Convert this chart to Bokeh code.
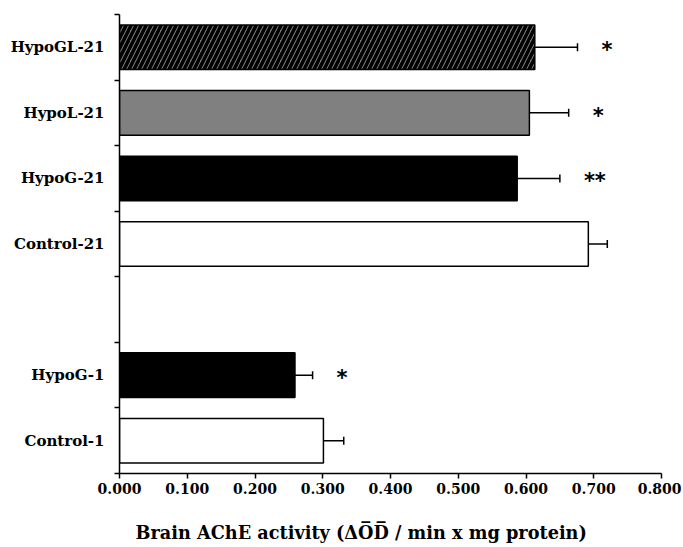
from bokeh.plotting import figure
from bokeh.models import (ColumnDataSource, FixedTicker, Range1d, Whisker, TeeHead,
                          NumeralTickFormatter, Title)
from bokeh.core.properties import value
from bokeh.embed import file_html
from bokeh.resources import INLINE

# ---- data ----
slots = ["Control-1", "HypoG-1", "", "Control-21", "HypoG-21", "HypoL-21", "HypoGL-21"]
means = [0.301, 0.259, None, 0.692, 0.587, 0.605, 0.613]
errors = [0.030, 0.026, None, 0.028, 0.063, 0.058, 0.063]
signif = ["", "*", "", "", "**", "*", "*"]
x_ticks = [0.0, 0.1, 0.2, 0.3, 0.4, 0.5, 0.6, 0.7, 0.8]
x_title = "Brain AChE activity (\u0394O\u0305D\u0305 / min x mg protein)"

# ---- styles per group ----
fill_map = {"Control": "white", "HypoG": "black", "HypoL": "#808080", "HypoGL": "#808080"}
hatch_map = {"Control": " ", "HypoG": " ", "HypoL": " ", "HypoGL": "/"}

rows = [(i, s) for i, s in enumerate(slots) if s]
ys = [i + 0.5 for i, _ in rows]
m = [means[i] for i, _ in rows]
e = [errors[i] for i, _ in rows]
src = ColumnDataSource(dict(
    y=ys, mean=m, upper=[a + b for a, b in zip(m, e)],
    sig=[signif[i] for i, _ in rows],
    fill=[fill_map[s.split("-")[0]] for _, s in rows],
    hatch=[hatch_map[s.split("-")[0]] for _, s in rows],
))

p = figure(frame_width=542, frame_height=459, output_backend="svg", toolbar_location=None,
           x_range=Range1d(0, 0.8), y_range=Range1d(0, len(slots)),
           min_border_left=119, min_border_top=14, min_border_right=20, min_border_bottom=0)
p.outline_line_color = None
p.xgrid.visible = False
p.ygrid.visible = False

p.hbar(y="y", left=0, right="mean", height=0.68, source=src, fill_color="fill",
       line_color="black", line_width=1.5, hatch_pattern="hatch", hatch_color="black",
       hatch_scale=10, hatch_weight=3.5)

w = Whisker(source=src, base="y", lower="mean", upper="upper", dimension="width",
            line_color="black", line_width=1.5,
            upper_head=TeeHead(size=8, line_color="black", line_width=1.5), lower_head=None)
p.add_layout(w)

p.text(x="upper", y="y", text="sig", source=src, x_offset=24, y_offset=3,
       text_align="left", text_baseline="alphabetic",
       text_font=value("DejaVu Sans"), text_font_style="bold", text_font_size="21px",
       text_color="black")

# x axis
xa = p.xaxis[0]
xa.ticker = FixedTicker(ticks=x_ticks, minor_ticks=[])
xa.formatter = NumeralTickFormatter(format="0.000")
xa.major_tick_in = 0
xa.major_tick_out = 5
xa.major_tick_line_width = 1.5
xa.axis_line_width = 1.5
xa.major_label_standoff = 4
xa.major_label_text_font = "DejaVu Serif"
xa.major_label_text_font_style = "bold"
xa.major_label_text_font_size = "14px"
xa.major_label_text_color = "black"

p.add_layout(Title(text=x_title, align="left", offset=16, standoff=10,
                   padding=dict(top=18, bottom=0, left=0, right=0),
                   text_font="DejaVu Serif", text_font_style="bold",
                   text_font_size="17.7px", text_color="black"), "below")

# y axis
ya = p.yaxis[0]
ya.ticker = FixedTicker(ticks=ys, minor_ticks=list(range(len(slots) + 1)))
ya.major_label_overrides = {y: s for y, (_, s) in zip(ys, rows)}
ya.major_tick_line_color = None
ya.major_tick_in = 0
ya.major_tick_out = 0
ya.minor_tick_in = 0
ya.minor_tick_out = 5
ya.minor_tick_line_color = "black"
ya.minor_tick_line_width = 1.5
ya.axis_line_width = 1.5
ya.major_label_standoff = 10
ya.major_label_text_font = "DejaVu Serif"
ya.major_label_text_font_style = "bold"
ya.major_label_text_font_size = "15px"
ya.major_label_text_color = "black"

open("out.html", "w").write(file_html(p, INLINE))
